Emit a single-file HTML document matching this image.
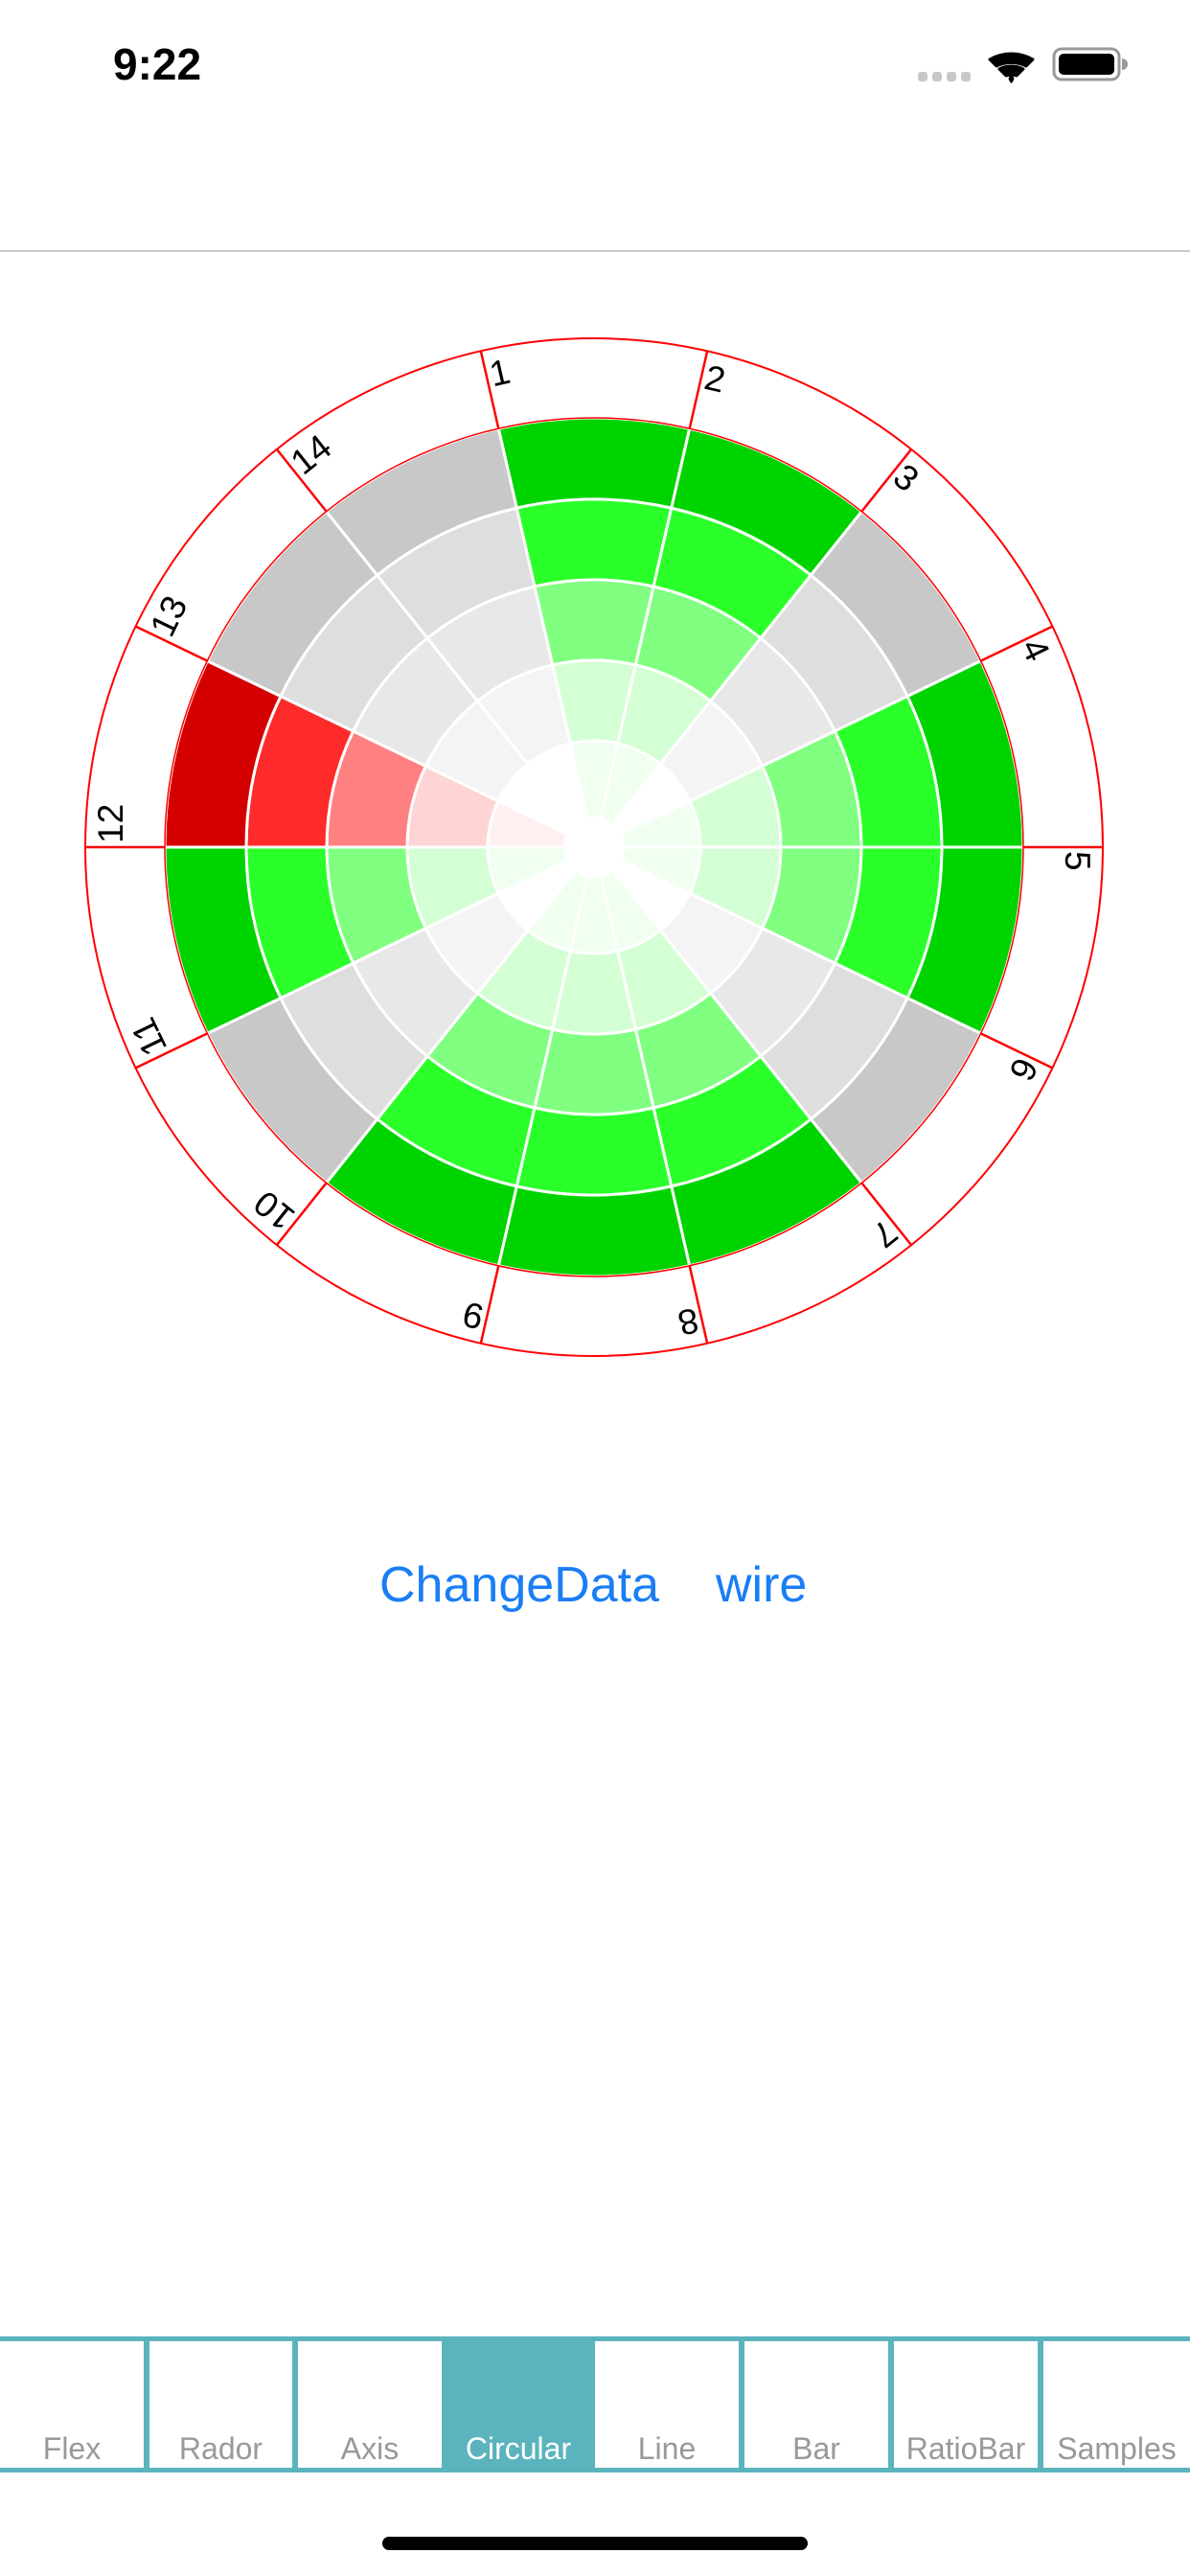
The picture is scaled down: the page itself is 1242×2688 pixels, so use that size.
<!DOCTYPE html>
<html><head><meta charset="utf-8"><style>
body{margin:0;width:1242px;height:2688px;background:#fff;position:relative;overflow:hidden;font-family:"Liberation Sans",sans-serif}
.abs{position:absolute}
.tab{position:absolute;top:2443px;height:132px;width:150px;color:#999;font-size:32px;text-align:center;line-height:32px;box-sizing:border-box;padding-top:96px}
</style></head><body>
<div class="abs" style="left:118px;top:40px;font-size:46px;font-weight:bold;">9:22</div>
<svg class="abs" style="left:0;top:0" width="1242" height="110">
<g fill="#c8c8c8"><rect x="958" y="75" width="10" height="10" rx="3"/><rect x="973" y="75" width="10" height="10" rx="3"/><rect x="988" y="75" width="10" height="10" rx="3"/><rect x="1003" y="75" width="10" height="10" rx="3"/></g>
<path d="M1033 62 A45 45 0 0 1 1078 62 L1071 69 A35 35 0 0 0 1040 69Z M1043 72 A28 28 0 0 1 1068 72 L1061 79 A18 18 0 0 0 1050 79Z M1054 82 L1055.5 80 L1057 82 L1055.5 85Z" fill="#000" stroke="#000" stroke-width="3" stroke-linejoin="round"/>
<rect x="1100" y="51" width="68" height="32" rx="8" fill="none" stroke="#999" stroke-width="3"/>
<rect x="1105" y="56" width="58" height="22" rx="5" fill="#000"/>
<path d="M1171 61 A6 6 0 0 1 1171 73Z" fill="#999"/>
</svg>
<div class="abs" style="left:0;top:261px;width:1242px;height:2px;background:#c8c8c8"></div>
<svg id="chart" class="abs" style="left:0;top:0" width="1242" height="1500"></svg>
<div class="abs" style="left:396px;top:1624px;font-size:52px;color:#1a7ef5">ChangeData</div>
<div class="abs" style="left:747px;top:1624px;font-size:52px;color:#1a7ef5">wire</div>
<div class="abs" style="left:0;top:2438px;width:1242px;height:142px;background:#5bb4bd"></div>
<div class="tab" style="left:0;width:150px;background:#fff">Flex</div>
<div class="tab" style="left:156px;width:149px;background:#fff">Rador</div>
<div class="tab" style="left:311px;width:150px;background:#fff">Axis</div>
<div class="tab" style="left:461px;width:160px;color:#fff">Circular</div>
<div class="tab" style="left:621px;width:150px;background:#fff">Line</div>
<div class="tab" style="left:777px;width:150px;background:#fff">Bar</div>
<div class="tab" style="left:933px;width:150px;background:#fff">RatioBar</div>
<div class="tab" style="left:1089px;width:153px;background:#fff">Samples</div>
<div class="abs" style="left:399px;top:2647px;width:444px;height:14px;border-radius:7px;background:#000"></div>
<script>
const categories=["1","2","3","4","5","6","7","8","9","10","11","12","13","14"];
const status=[1,1,0,1,1,0,1,1,1,0,1,-1,0,0];
const levels=[5,5,5,5,5,5,5,5,5,5,5,5,5,5];
const palettes={"1":["#f0fff0","#d4ffd4","#80ff80","#2aff2a","#00d400"],"0":["#ffffff","#f4f4f4","#e8e8e8","#dedede","#c8c8c8"],"-1":["#fff0f0","#ffd4d4","#ff8080","#ff2a2a","#d40000"]};
const NS="http://www.w3.org/2000/svg";
const svg=document.getElementById('chart');
const cx=620,cy=884,rOuter=531,rChart=448,rIn=22,rings=[22,111,195,279,363,448];
const n=categories.length,step=360/n,start=-step/2;
function pt(r,a){const t=(a-90)*Math.PI/180;return [cx+r*Math.cos(t),cy+r*Math.sin(t)];}
function mk(tag,attrs){const e=document.createElementNS(NS,tag);for(const k in attrs)e.setAttribute(k,attrs[k]);svg.appendChild(e);return e;}
const oc=mk('circle',{cx:cx,cy:cy,r:rOuter,fill:'none',stroke:'#ff0000','stroke-width':2});


categories.forEach((c,i)=>{
  const a0=start+i*step,a1=a0+step;
  for(let k=0;k<levels[i];k++){
    const r0=rings[k],r1=rings[k+1];
    const p0=pt(r0,a0),p1=pt(r1,a0),p2=pt(r1,a1),p3=pt(r0,a1);
    const d=`M${p0} L${p1} A${r1} ${r1} 0 0 1 ${p2} L${p3} A${r0} ${r0} 0 0 0 ${p0}Z`;
    const e=mk('path',{d:d,fill:palettes[status[i]][k],stroke:'#fff','stroke-width':3});
    
    
  }
});
const cc=mk('circle',{cx:cx,cy:cy,r:rChart,fill:'none',stroke:'#ff0000','stroke-width':1.5});


const hole=mk('circle',{cx:cx,cy:cy,r:rIn+10,fill:'#fff'});


categories.forEach((c,i)=>{
  const a=start+i*step;
  const p0=pt(rChart,a),p1=pt(rOuter,a);
  const l=mk('line',{x1:p0[0],y1:p0[1],x2:p1[0],y2:p1[1],stroke:'#ff0000','stroke-width':2.5});
  
  
  const t=mk('text',{x:cx+4,y:cy-492,'font-size':37,fill:'#000',transform:`rotate(${a} ${cx} ${cy})`});
  t.textContent=c;
  
  
});
</script>
</body></html>
